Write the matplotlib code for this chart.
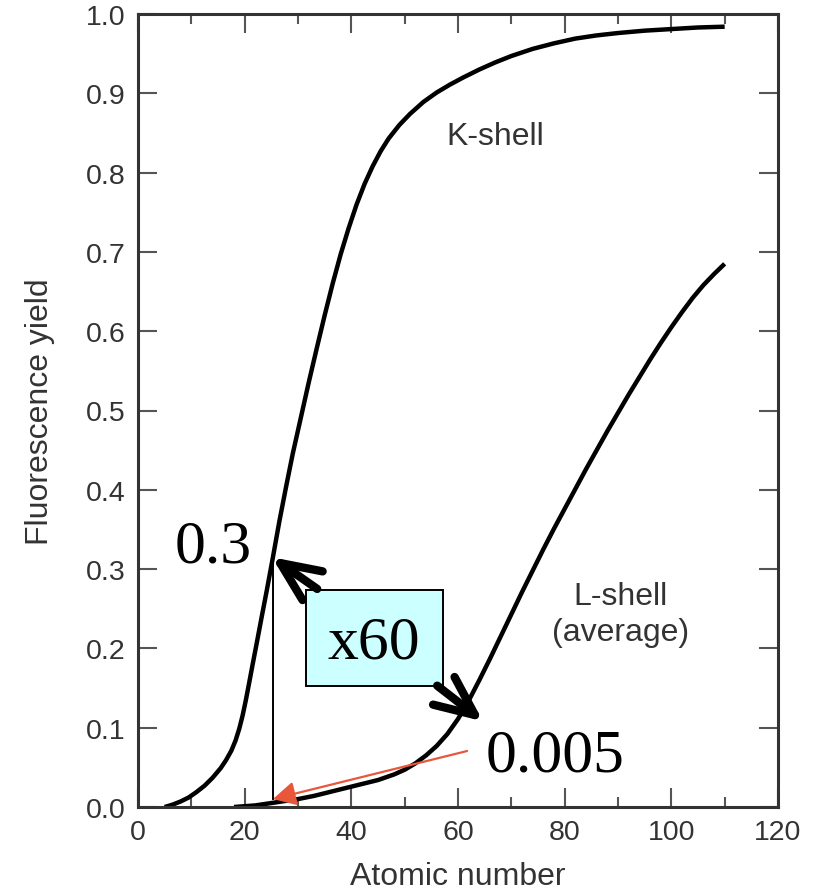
import numpy as np
import matplotlib.pyplot as plt
from matplotlib.patches import Rectangle

# K-shell fluorescence yield
k_z = [5, 6.5, 8, 9.5, 11, 12.5, 14, 15.5, 16.5, 17.5, 18.3, 19.0, 19.6, 20.2, 20.8, 21.5,
       22.3, 23.2, 24.2, 25.3, 26.5, 27.8, 29, 30.5, 32, 33.5, 35, 36.5, 38, 39.5, 41,
       42.5, 44, 45.5, 47, 49, 51, 53.5, 56, 58.5, 61, 64, 67, 70, 74, 78, 82, 86, 90,
       95, 100, 105, 110]
k_w = [0.000, 0.003, 0.007, 0.012, 0.019, 0.027, 0.037, 0.049, 0.059, 0.071, 0.084,
       0.099, 0.115, 0.134, 0.155, 0.180, 0.208, 0.240, 0.275, 0.315, 0.360, 0.405,
       0.445, 0.490, 0.535, 0.578, 0.620, 0.660, 0.697, 0.730, 0.760, 0.786, 0.808,
       0.827, 0.843, 0.860, 0.874, 0.889, 0.901, 0.911, 0.920, 0.930, 0.939, 0.947,
       0.956, 0.963, 0.969, 0.973, 0.976, 0.979, 0.981, 0.983, 0.984]

# L-shell (average)
l_z = [18, 20, 22, 24, 26, 28, 30, 33, 36, 39, 42, 45, 48, 50, 52, 54, 56, 58, 60, 62,
       64, 66, 68, 70, 72, 74, 76, 78, 80, 82, 84, 86, 88, 90, 92, 94, 96, 98, 100,
       102, 104, 106, 108, 110]
l_w = [0.000, 0.001, 0.002, 0.004, 0.006, 0.008, 0.010, 0.014, 0.019, 0.024, 0.029,
       0.034, 0.041, 0.047, 0.055, 0.065, 0.077, 0.092, 0.111, 0.134, 0.160, 0.187,
       0.215, 0.243, 0.271, 0.298, 0.325, 0.351, 0.376, 0.401, 0.426, 0.450, 0.474,
       0.497, 0.520, 0.542, 0.564, 0.585, 0.605, 0.624, 0.642, 0.658, 0.672, 0.685]

x_ticks = [0, 20, 40, 60, 80, 100, 120]
y_ticks = [0.0, 0.1, 0.2, 0.3, 0.4, 0.5, 0.6, 0.7, 0.8, 0.9, 1.0]

fig = plt.figure(figsize=(8.19, 8.95), dpi=100)
ax = fig.add_axes([138 / 819, 87 / 895, 640 / 819, 793 / 895])

sans = 'Liberation Sans'
serif = 'Liberation Serif'
gray = '#333333'

ax.plot(k_z, k_w, color='black', lw=3.2, solid_capstyle='butt', solid_joinstyle='round')
ax.plot(l_z, l_w, color='black', lw=3.2, solid_capstyle='butt', solid_joinstyle='round')

ax.set_xlim(0, 120)
ax.set_ylim(0, 1.0)
ax.set_xticks(x_ticks)
ax.set_xticks(np.arange(10, 120, 20), minor=True)
ax.set_yticks(y_ticks)
ax.set_xticklabels([str(t) for t in x_ticks])
ax.set_yticklabels(['%.1f' % t for t in y_ticks])

for s in ax.spines.values():
    s.set_linewidth(2.2)
    s.set_color(gray)
ax.tick_params(which='both', direction='in', top=True, right=True, color='#555555',
               width=1.5, labelsize=20.5, labelcolor=gray, pad=9)
ax.tick_params(which='major', length=14)
ax.tick_params(which='minor', length=7)
for lab in ax.get_xticklabels() + ax.get_yticklabels():
    lab.set_fontfamily(sans)

ax.set_xlabel('Atomic number', fontsize=23, family=sans, color=gray, labelpad=11)
ax.set_ylabel('Fluorescence yield', fontsize=23, family=sans, color=gray, labelpad=22)

ax.text(66.9, 0.836, 'K-shell', fontsize=23, family=sans, color=gray, ha='center', va='baseline')
ax.text(90.4, 0.256, 'L-shell', fontsize=23, family=sans, color=gray, ha='center', va='baseline')
ax.text(90.5, 0.2106, '(average)', fontsize=23, family=sans, color=gray, ha='center', va='baseline')

# annotation: ratio of K to L yield at Z = 25
ax.plot([25.4, 25.4], [0.0101, 0.315], color='black', lw=1.4)
ax.add_patch(Rectangle((31.5, 0.1526), 25.7, 0.121, facecolor='#ccffff',
                       edgecolor='black', lw=1.4, zorder=3))
ax.text(44.16, 0.189, 'x60', fontsize=44.5, family=serif, ha='center', va='baseline', zorder=4)
ax.text(14.16, 0.309, '0.3', fontsize=44.5, family=serif, ha='center', va='baseline')
ax.text(78.2, 0.0454, '0.005', fontsize=44.5, family=serif, ha='center', va='baseline')

big = dict(arrowstyle='->,head_length=1.42,head_width=0.63', mutation_scale=20,
           color='black', lw=6, shrinkA=0, shrinkB=0, capstyle='round', joinstyle='round')
ax.annotate('', xy=(25.1, 0.315), xytext=(33.6, 0.275), arrowprops=big, zorder=5)
ax.annotate('', xy=(64.7, 0.108), xytext=(56.1, 0.153), arrowprops=big, zorder=5)

red = dict(arrowstyle='-|>,head_length=0.7,head_width=0.37', mutation_scale=20,
           color='#e8573c', lw=1.6, shrinkA=0, shrinkB=0)
ax.annotate('', xy=(25.3, 0.010), xytext=(61.7, 0.0706), arrowprops=red, zorder=5)

fig.savefig('out.png', dpi=100)
